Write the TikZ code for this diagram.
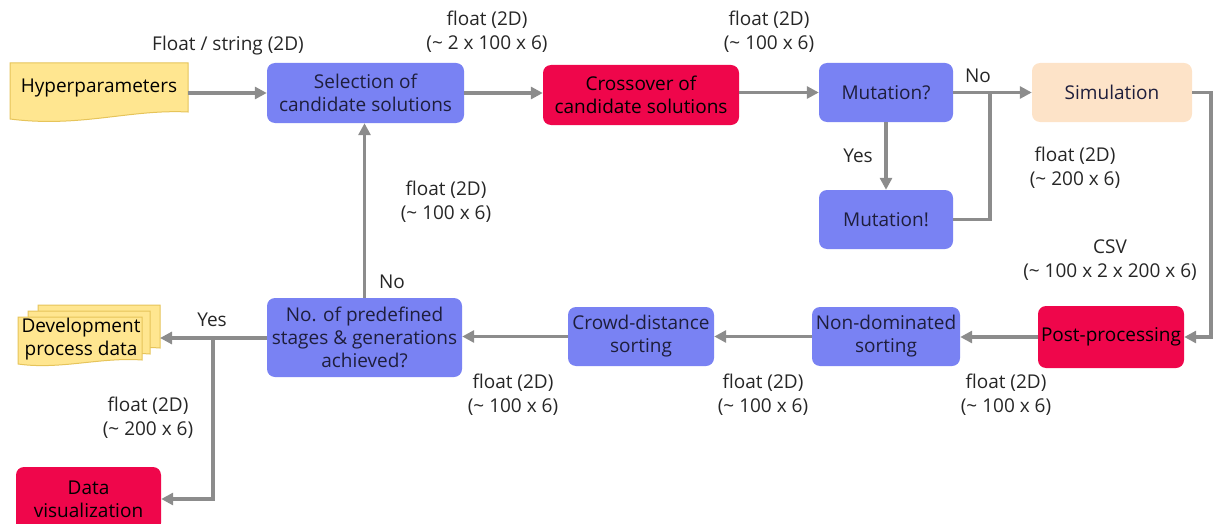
\documentclass[tikz,border=0pt]{standalone}
\usepackage{fontspec}
\setmainfont{Open Sans}
\usetikzlibrary{arrows.meta}
\definecolor{boxblue}{HTML}{7982F3}
\definecolor{boxred}{HTML}{EF064B}
\definecolor{boxpeach}{HTML}{FDE3C8}
\definecolor{docfill}{HTML}{FFE690}
\definecolor{docline}{HTML}{E6C45A}
\definecolor{linegray}{HTML}{8C8C8C}
\definecolor{txtdark}{HTML}{1E1E3C}
\begin{document}
\begin{tikzpicture}[x=1pt,y=-1pt,
  font=\fontsize{19}{23}\selectfont,
  box/.style={rounded corners=8pt, align=center, inner sep=0pt, text=txtdark},
  bluebox/.style={box, fill=boxblue},
  redbox/.style={box, fill=boxred, text=black},
  peachbox/.style={box, fill=boxpeach},
  docshape/.style={fill=docfill, draw=docline, line width=1pt},
  line/.style={draw=linegray, line width=3.8pt},
  conn/.style={line, -{Triangle[length=12pt,width=12pt]}},
  lbl/.style={align=center, font=\fontsize{19}{24}\selectfont, text=black!85}]
\useasboundingbox (0,0) rectangle (1214,524);
\begin{scope}
\clip (0,0) rectangle (1214,524);
% document shapes
\draw[docshape] (10,63) -- (188,63) -- (188,112) .. controls (130,109) and (80,128) .. (10,119) -- cycle;
\draw[docshape] (38,305) -- (160,305) -- (160,348) .. controls (120,345) and (80,358) .. (38,352) -- cycle;
\draw[docshape] (28,311) -- (150,311) -- (150,354) .. controls (110,351) and (70,364) .. (28,358) -- cycle;
\draw[docshape] (18,317) -- (142,317) -- (142,360) .. controls (100,357) and (60,370) .. (18,364) -- cycle;

\node[inner sep=0pt, minimum width=178pt, minimum height=50pt] (hyp) at (99,88) {Hyperparameters};
\node[align=center, inner sep=0pt] (dev) at (81,339) {Development\\process data};
\coordinate (devtip) at (160,338);

\node[bluebox, minimum width=197pt, minimum height=60pt] (sel) at (365.5,93) {Selection of\\candidate solutions};
\node[redbox, minimum width=196pt, minimum height=60pt] (cross) at (641,95) {Crossover of\\candidate solutions};
\node[bluebox, minimum width=134pt, minimum height=59pt] (mutq) at (886,92.5) {Mutation?};
\node[peachbox, minimum width=160pt, minimum height=59pt] (sim) at (1112,92.5) {Simulation};
\node[bluebox, minimum width=134pt, minimum height=59pt] (mute) at (886,219.5) {Mutation!};
\node[redbox, minimum width=146pt, minimum height=62pt] (post) at (1111,337) {Post-processing};
\node[bluebox, minimum width=148pt, minimum height=59pt] (nond) at (886,336.5) {Non-dominated\\sorting};
\node[bluebox, minimum width=146pt, minimum height=59pt] (crowd) at (641,336.5) {Crowd-distance\\sorting};
\node[bluebox, minimum width=195pt, minimum height=79pt] (gen) at (364.5,337.5) {No. of predefined\\stages \& generations\\achieved?};
\node[redbox, minimum width=145pt, minimum height=64pt] (vis) at (88.5,499) {Data\\visualization};

\coordinate (j1) at (990,92.5);
\coordinate (rc) at (1211,92.5);
\coordinate (j2) at (213,338);

% connectors
\draw[conn] (hyp.east |- sel.west) -- (sel.west);
\draw[conn] (sel.east) -- (sel.east -| cross.west);
\draw[conn] (cross.east |- mutq.west) -- (mutq.west);
\draw[conn] (mutq.east) -- (sim.west);
\draw[conn] (mutq.south) -- (mute.north);
\draw[line] (mute.east) -| (j1);
\draw[conn] (sim.east) -- (rc) |- (post.east);
\draw[conn] (post.west) -- (post.west -| nond.east);
\draw[conn] (nond.west) -- (nond.west -| crowd.east);
\draw[conn] (crowd.west) -- (crowd.west -| gen.east);
\draw[conn] (gen.west |- devtip) -- (devtip);
\draw[conn] (j2) |- (vis.east);
\draw[conn] (gen.north) -- (gen.north |- sel.south);
\end{scope}

% labels
\node[lbl] (l1) at (228,46) {Float / string (2D)};
\node[lbl] (l2) at (487,32) {float (2D)\\(\textasciitilde{} 2 x 100 x 6)};
\node[lbl] (l3) at (769,32) {float (2D)\\(\textasciitilde{} 100 x 6)};
\node[lbl] (l4) at (978,76) {No};
\node[lbl] (l5) at (858,156) {Yes};
\node[lbl] (l6) at (1075,168) {float (2D)\\(\textasciitilde{} 200 x 6)};
\node[lbl] (l7) at (446,202) {float (2D)\\(\textasciitilde{} 100 x 6)};
\node[lbl] (l8) at (1110,260) {CSV\\(\textasciitilde{} 100 x 2 x 200 x 6)};
\node[lbl] (l9) at (392,282) {No};
\node[lbl] (l10) at (212,320) {Yes};
\node[lbl] (l11) at (513,395) {float (2D)\\(\textasciitilde{} 100 x 6)};
\node[lbl] (l12) at (763,395) {float (2D)\\(\textasciitilde{} 100 x 6)};
\node[lbl] (l13) at (1006,395) {float (2D)\\(\textasciitilde{} 100 x 6)};
\node[lbl] (l14) at (148,418) {float (2D)\\(\textasciitilde{} 200 x 6)};
\end{tikzpicture}
\end{document}
